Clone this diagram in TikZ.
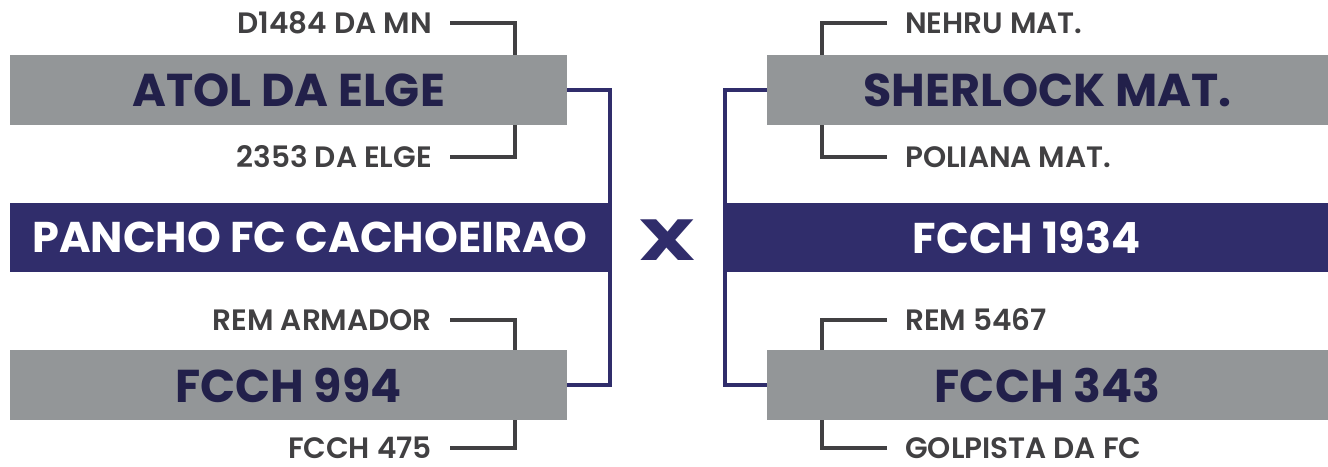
\documentclass[tikz,border=0pt]{standalone}
\usepackage{fontspec}
\setmainfont{Poppins}
\newfontfamily\semibold{Poppins SemiBold}
\definecolor{boxgray}{HTML}{939698}
\definecolor{navy}{HTML}{302D6B}
\definecolor{inknavy}{HTML}{22204A}
\definecolor{inkgray}{HTML}{414042}
\tikzset{
  teambox/.style={fill=boxgray,text=inknavy,inner sep=0pt,minimum height=70pt,
    font=\fontsize{46}{46}\selectfont\bfseries},
  finalbox/.style={fill=navy,text=white,inner sep=0pt,minimum height=69pt,
    font=\fontsize{43}{43}\selectfont\bfseries},
  sublabel/.style={text=inkgray,inner sep=0pt,font=\fontsize{29.5}{29.5}\semibold},
  subline/.style={draw=inkgray,line width=4pt},
  navyline/.style={draw=navy,line width=4pt}
}
\begin{document}
\begin{tikzpicture}[x=1pt,y=-1pt]
    \useasboundingbox (0,0) rectangle (1328,466);

    % left bracket
    \node[teambox,minimum width=557pt] (atol) at (288.5,90) {ATOL DA ELGE};
    \node[teambox,minimum width=557pt] (f994) at (288.5,385) {FCCH 994};
    \node[finalbox,minimum width=600pt] (pancho) at (310,237.5) {PANCHO FC CACHOEIRAO};

    \node[sublabel,anchor=east] (d1484) at (432,23) {D1484 DA MN};
    \node[sublabel,anchor=east] (e2353) at (432,157) {2353 DA ELGE};
    \node[sublabel,anchor=east] (armador) at (432,320) {REM ARMADOR};
    \node[sublabel,anchor=east] (f475) at (432,448) {FCCH 475};

    \coordinate (atoltop) at (515,55);
    \coordinate (atolbot) at (515,125);
    \coordinate (f994top) at (515,350);
    \coordinate (f994bot) at (515,420);

    \draw[subline] ([xshift=18pt]d1484.east) -| (atoltop);
    \draw[subline] ([xshift=18pt]e2353.east) -| (atolbot);
    \draw[subline] ([xshift=18pt]armador.east) -| (f994top);
    \draw[subline] ([xshift=18pt]f475.east) -| (f994bot);

    \draw[navyline] (atol.east) -| (pancho.east) |- (f994.east);

    % versus
    \node[text=navy,inner sep=0pt,font=\fontsize{58}{58}\selectfont\bfseries] (versus) at (668,240) {\scalebox{1.4}[1]{X}};

    % right bracket
    \node[teambox,minimum width=561pt] (sherlock) at (1047.5,90) {SHERLOCK MAT.};
    \node[teambox,minimum width=561pt] (f343) at (1047.5,385) {FCCH 343};
    \node[finalbox,minimum width=603pt] (fc1934) at (1026.5,237.5) {FCCH 1934};

    \node[sublabel,anchor=west] (nehru) at (905,23) {NEHRU MAT.};
    \node[sublabel,anchor=west] (poliana) at (905,157) {POLIANA MAT.};
    \node[sublabel,anchor=west] (rem5467) at (905,320) {REM 5467};
    \node[sublabel,anchor=west] (golpista) at (905,448) {GOLPISTA DA FC};

    \coordinate (sherltop) at (822,55);
    \coordinate (sherlbot) at (822,125);
    \coordinate (f343top) at (822,350);
    \coordinate (f343bot) at (822,420);

    \draw[subline] ([xshift=-18pt]nehru.west) -| (sherltop);
    \draw[subline] ([xshift=-18pt]poliana.west) -| (sherlbot);
    \draw[subline] ([xshift=-18pt]rem5467.west) -| (f343top);
    \draw[subline] ([xshift=-18pt]golpista.west) -| (f343bot);

    \draw[navyline] (sherlock.west) -| (fc1934.west) |- (f343.west);
\end{tikzpicture}
\end{document}
